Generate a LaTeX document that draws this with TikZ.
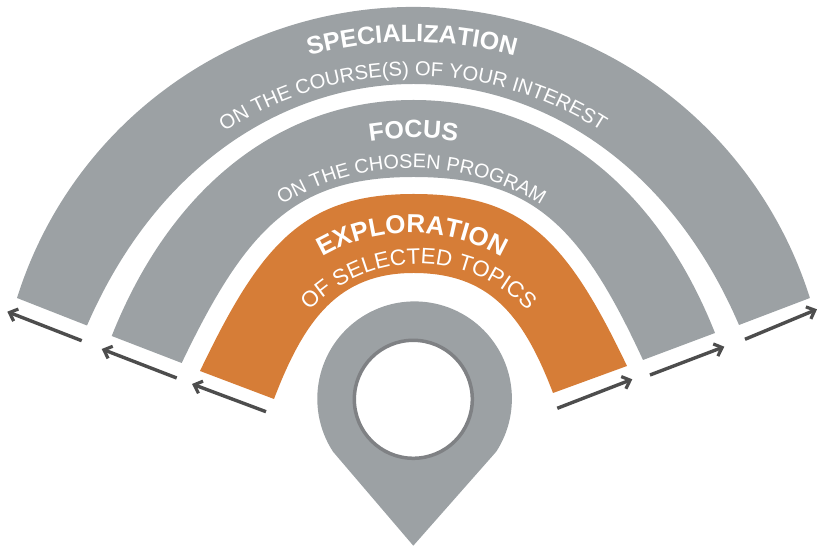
\documentclass[tikz,border=0pt]{standalone}
\usepackage{fontspec}
\setmainfont{Liberation Sans}
\usetikzlibrary{arrows.meta,decorations.text}
\definecolor{bandgray}{HTML}{9CA1A4}
\definecolor{bandorange}{HTML}{D67D37}
\definecolor{arrowgray}{HTML}{4D4D4D}
\definecolor{ringgray}{HTML}{7F8184}
\newcommand{\arctext}[6]{% cx, cy, r, mid angle, format, text
  \pgfmathsetmacro{\sa}{#4+55}\pgfmathsetmacro{\ea}{#4-55}
  \path[decorate,decoration={text along path,text align=center,
    text={|#5|#6}}]
    ([shift={(\sa:#3pt)}]#1,#2) arc[start angle=\sa,end angle=\ea,radius=#3pt];}
\tikzset{
  flow/.style={draw=arrowgray,line width=3.4pt,-{Straight Barb[length=7pt,width=13pt,line width=3.2pt]}},
}
\begin{document}
\begin{tikzpicture}[x=1pt,y=1pt]
\useasboundingbox (0,0) rectangle (817,548);
% bands
\fill[bandgray] (17,250) arc[start angle=162.55,end angle=17.45,radius=415.6pt]
  -- (739,223)
  .. controls (666.4,392) and (533.5,464) .. (413.5,464)
  .. controls (293.5,464) and (160.6,392) .. (87,222.5) -- cycle;
\fill[bandgray] (111.7,212)
  .. controls (174.6,370) and (288.5,448) .. (413.5,448)
  .. controls (538.5,448) and (652.4,373) .. (715,215)
  -- (643,188)
  .. controls (580.2,324) and (531.5,371) .. (413.5,371)
  .. controls (295.5,371) and (246.8,321) .. (181.7,185) -- cycle;
\fill[bandorange] (200,177)
  .. controls (260.7,303.8) and (303.5,354) .. (413.5,354)
  .. controls (523.5,354) and (566.3,309) .. (627,182)
  -- (553,155)
  .. controls (522.8,234.3) and (488.5,275) .. (413.5,275)
  .. controls (338.5,275) and (304.2,228.3) .. (274,149) -- cycle;
% pin
\fill[bandgray] (413.3,2.3) -- (333,96.3) arc[start angle=213,end angle=-33,radius=97.3pt] -- cycle;
\fill[white,draw=ringgray,line width=3.5pt] (413.3,148.7) circle[radius=59pt];
% arrows
\coordinate (a1s) at (81.7,207.3); \coordinate (a1e) at (7.3,236.3);
\coordinate (a2s) at (176.7,170);  \coordinate (a2e) at (101.7,199);
\coordinate (a3s) at (266,136.3);  \coordinate (a3e) at (192,164);
\coordinate (a4s) at (557.3,139.7);\coordinate (a4e) at (632.3,168.7);
\coordinate (a5s) at (650,173);    \coordinate (a5e) at (724.3,201.3);
\coordinate (a6s) at (745,208.7);  \coordinate (a6e) at (817,238.7);
\foreach \n in {1,...,6} \draw[flow] (a\n s) -- (a\n e);
% texts
\arctext{412}{123}{383}{90}{\fontsize{25}{25}\selectfont\bfseries\color{white}}{SPECIALIZATION}
\arctext{413}{123}{349}{90}{\fontsize{20.2}{20.2}\selectfont\color{white}}{ON THE COURSE(S) OF YOUR INTEREST}
\arctext{413.5}{136}{274}{90}{\fontsize{25}{25}\selectfont\bfseries\color{white}}{FOCUS}
\arctext{411.5}{134}{246}{90}{\fontsize{19.8}{19.8}\selectfont\color{white}}{ON THE CHOSEN PROGRAM}
\arctext{412}{136}{179}{90}{\fontsize{26}{26}\selectfont\bfseries\color{white}}{EXPLORATION}
\arctext{418.5}{133}{151}{90}{\fontsize{22.3}{22.3}\selectfont\color{white}}{OF SELECTED TOPICS}
\end{tikzpicture}
\end{document}
